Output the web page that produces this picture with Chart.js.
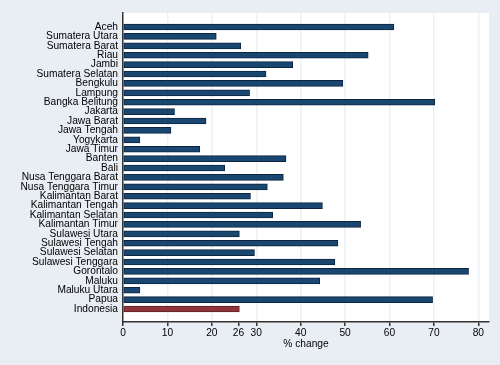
<!DOCTYPE html>
<html>
<head>
<meta charset="utf-8">
<script src="https://cdn.jsdelivr.net/npm/chart.js@4/dist/chart.umd.min.js"></script>
<style>
  html, body { margin: 0; padding: 0; background: #e8eef4; }
  #wrap { width: 500px; height: 365px; }
</style>
</head>
<body>
<div id="wrap"><canvas id="chart" width="500" height="365"></canvas></div>
<script>
  // Provinces, top to bottom
  const provinces = [
    'Aceh', 'Sumatera Utara', 'Sumatera Barat', 'Riau', 'Jambi', 'Sumatera Selatan',
    'Bengkulu', 'Lampung', 'Bangka Belitung', 'Jakarta', 'Jawa Barat', 'Jawa Tengah',
    'Yogykarta', 'Jawa Timur', 'Banten', 'Bali', 'Nusa Tenggara Barat', 'Nusa Tenggara Timur',
    'Kalimantan Barat', 'Kalimantan Tengah', 'Kalimantan Selatan', 'Kalimantan Timur',
    'Sulawesi Utara', 'Sulawesi Tengah', 'Sulawesi Selatan', 'Sulawesi Tenggara',
    'Gorontalo', 'Maluku', 'Maluku Utara', 'Papua', 'Indonesia'
  ];

  // % change per province
  const pctChange = [
    61.0, 21.0, 26.5, 55.2, 38.2, 32.2,
    49.5, 28.5, 70.2, 11.6, 18.7, 10.8,
    3.8, 17.3, 36.7, 22.9, 36.1, 32.5,
    28.7, 44.9, 33.7, 53.5,
    26.2, 48.4, 29.6, 47.7,
    77.8, 44.3, 3.8, 69.7, 26.2
  ];

  const xTicks = [0, 10, 20, 26, 30, 40, 50, 60, 70, 80];

  const navy = '#1a476f';
  const maroon = '#90353b';
  const font = { family: 'Liberation Sans, Arial', size: 10.2 };

  const plotBg = {
    id: 'plotBg',
    beforeDraw(chart) {
      const { ctx, chartArea: a } = chart;
      ctx.save();
      ctx.fillStyle = '#ffffff';
      ctx.fillRect(a.left, a.top, a.right - a.left, a.bottom - a.top);
      ctx.restore();
    }
  };

  const points = pctChange.map((v, i) => ({ x: v, y: i }));

  new Chart(document.getElementById('chart'), {
    type: 'bar',
    data: {
      datasets: [{
        data: points,
        backgroundColor: provinces.map(p => p === 'Indonesia' ? maroon : navy),
        borderColor: provinces.map(p => p === 'Indonesia' ? '#5e1f24' : '#0b2540'),
        borderWidth: 1,
        borderSkipped: false,
        barThickness: 6
      }]
    },
    options: {
      indexAxis: 'y',
      responsive: false,
      animation: false,
      layout: { padding: { top: 13, right: 11, left: 0, bottom: 15 } },
      plugins: { legend: { display: false }, tooltip: { enabled: false } },
      scales: {
        y: {
          type: 'linear',
          reverse: true,
          offset: false,
          min: -1.49,
          max: 31.38,
          afterBuildTicks(scale) {
            scale.ticks = provinces.map((_, i) => ({ value: i }));
          },
          afterFit(scale) { scale.width = 123; },
          ticks: {
            autoSkip: false,
            padding: 5,
            color: '#000',
            font: font,
            callback: v => provinces[v]
          },
          grid: { display: false, drawTicks: false, offset: false },
          border: { display: true, color: '#333', width: 1.5 }
        },
        x: {
          type: 'linear',
          min: 0,
          max: 82.4,
          afterBuildTicks(scale) {
            scale.ticks = xTicks.map(v => ({ value: v }));
          },
          afterFit(scale) { scale.height = 28; },
          ticks: {
            autoSkip: false,
            maxRotation: 0,
            padding: 1,
            color: '#000',
            font: font
          },
          grid: {
            color: c => (c.tick && (c.tick.value === 0 || c.tick.value === 26)) ? 'rgba(0,0,0,0)' : '#eaf2f3',
            lineWidth: 1.5,
            tickColor: '#333',
            tickLength: 4,
            drawOnChartArea: true
          },
          border: { display: true, color: '#333', width: 1.5 },
          title: {
            display: true,
            text: '% change',
            color: '#000',
            padding: 0,
            font: font
          }
        }
      }
    },
    plugins: [plotBg]
  });
</script>
</body>
</html>
